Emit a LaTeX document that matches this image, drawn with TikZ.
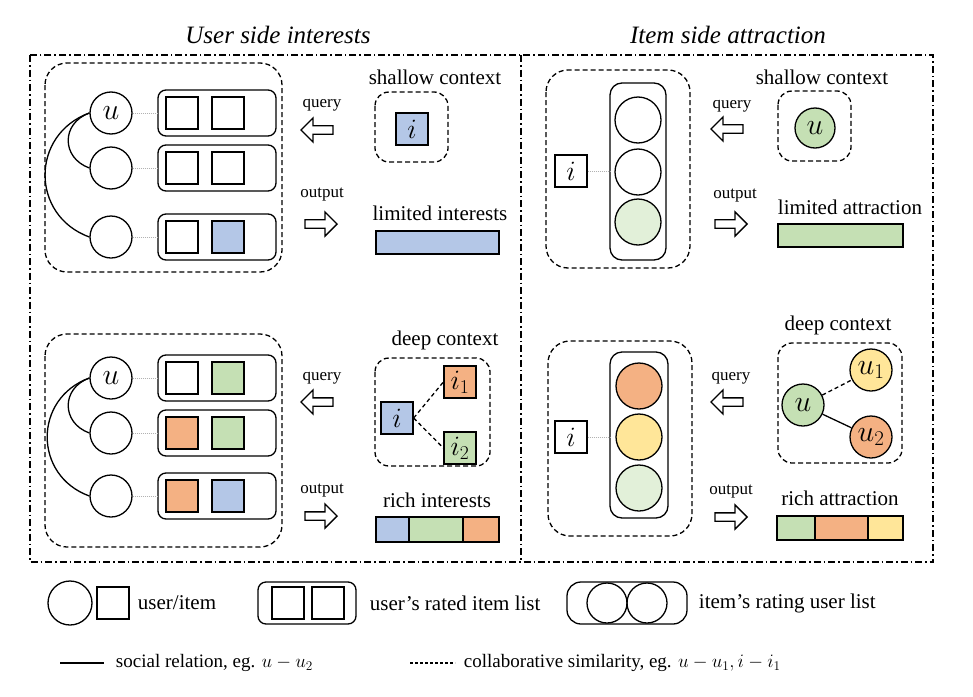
\documentclass[tikz,border=0pt]{standalone}
\usepackage{fix-cm}
\usepackage{fontspec}
\setmainfont{Liberation Serif}
\usetikzlibrary{shapes.arrows}

\definecolor{cblue}{HTML}{B4C7E7}
\definecolor{cgreen}{HTML}{C5E0B4}
\definecolor{corange}{HTML}{F4B183}
\definecolor{cyellow}{HTML}{FFE699}
\definecolor{clight}{HTML}{E2F0D9}

\begin{document}
\begin{tikzpicture}[
  x=1pt, y=-1pt, line width=1.3pt,
  usr/.style={circle, draw, minimum size=42pt, inner sep=0pt, font=\fontsize{30}{30}\selectfont},
  itm/.style={rectangle, draw, minimum size=32pt, inner sep=0pt, font=\fontsize{28}{28}\selectfont},
  lst/.style={draw, rounded corners=8pt},
  grp/.style={draw, dash pattern=on 5pt off 3pt, rounded corners=22pt},
  ctx/.style={draw, dash pattern=on 5pt off 3pt, rounded corners=14pt},
  link/.style={gray!60, densely dotted, line width=1pt},
  lbl/.style={font=\fontsize{21}{21}\selectfont},
  small/.style={font=\fontsize{17}{17}\selectfont},
  hollow/.style={single arrow, draw, minimum height=32pt, minimum width=24pt, single arrow head extend=5pt, inner sep=2pt},
  bar/.style={draw}
  ]
\useasboundingbox (0,0) rectangle (973,696);

% frame and titles
\draw[dash pattern=on 7pt off 3pt on 1.5pt off 3pt] (30,55) rectangle (933,562);
\draw[dash pattern=on 7pt off 3pt on 1.5pt off 3pt] (521,55) -- (521,562);
\node[font=\fontsize{25}{25}\selectfont\itshape] (tuser) at (278,35) {User side interests};
\node[font=\fontsize{25}{25}\selectfont\itshape] (titem) at (728,35) {Item side attraction};

% user side, shallow
\draw[grp] (45,63) rectangle (282,272);
\foreach \y/\n in {113/a,168/b,237/c} {
  \node[usr] (s\n) at (111,\y) {};
  \draw[lst] (158,\y-23) rectangle (276,\y+23);
  \coordinate (r\n) at (158,\y);
  \draw[link] (s\n) -- (r\n);
}
\node[font=\fontsize{30}{30}\selectfont] at (sa) {$u$};
\node[itm] (sa1) at (182,113) {};
\node[itm] (sa2) at (228,113) {};
\node[itm] (sb1) at (182,168) {};
\node[itm] (sb2) at (228,168) {};
\node[itm] (sc1) at (182,237) {};
\node[itm, fill=cblue] (sc2) at (228,237) {};
\draw (sa.west) to[out=200, in=160, looseness=1.4] (sb.west);
\draw (sa.west) to[out=200, in=160, looseness=1.3] (sc.west);

\node[small] (q1) at (322,105) {query};
\node[hollow, shape border rotate=180] (qa1) at (319,130) {};
\node[lbl] (sc) at (435,77) {shallow context};
\draw[ctx] (375,92) rectangle (448,162);
\node[itm, fill=cblue] (si) at (412,129) {$i$};
\node[small] (o1) at (322,195) {output};
\node[hollow] (oa1) at (319,224) {};
\node[lbl] (li) at (440,213) {limited interests};
\node[bar, fill=cblue, minimum width=123pt, minimum height=23pt] (bli) at (437.5,242.5) {};

% user side, deep
\draw[grp] (45,334) rectangle (282,547);
\foreach \y/\n in {378/a,433/b,496/c} {
  \node[usr] (d\n) at (111,\y) {};
  \draw[lst] (158,\y-23) rectangle (276,\y+23);
  \coordinate (t\n) at (158,\y);
  \draw[link] (d\n) -- (t\n);
}
\node[font=\fontsize{30}{30}\selectfont] at (da) {$u$};
\node[itm] (da1) at (182,378) {};
\node[itm, fill=cgreen] (da2) at (228,378) {};
\node[itm, fill=corange] (db1) at (182,433) {};
\node[itm, fill=cgreen] (db2) at (228,433) {};
\node[itm, fill=corange] (dc1) at (182,496) {};
\node[itm, fill=cblue] (dc2) at (228,496) {};
\draw (da.west) to[out=200, in=160, looseness=1.4] (db.west);
\draw (da.west) to[out=200, in=160, looseness=1.3] (dc.west);

\node[small] (q2) at (322,378) {query};
\node[hollow, shape border rotate=180] (qa2) at (319,402) {};
\node[lbl] (dcx) at (445,340) {deep context};
\draw[ctx] (375,358) rectangle (490,466);
\node[itm, fill=cblue] (di) at (397,418) {$i$};
\node[itm, fill=corange] (di1) at (460,382) {$i_1$};
\node[itm, fill=cgreen] (di2) at (460,448) {$i_2$};
\draw[dash pattern=on 4pt off 3pt] (di.east) -- (di1.west);
\draw[dash pattern=on 4pt off 3pt] (di.east) -- (di2.west);
\node[small] (o2) at (322,491) {output};
\node[hollow] (oa2) at (319,516) {};
\node[lbl] (ri) at (437,500) {rich interests};
\draw[bar, fill=cblue] (376,517) rectangle (409,542);
\draw[bar, fill=cgreen] (409,517) rectangle (463,542);
\draw[bar, fill=corange] (463,517) rectangle (499,542);

% item side, shallow
\draw[grp] (546,70) rectangle (690,268);
\draw[lst, rounded corners=12pt] (610,83) rectangle (666,260);
\node[usr, minimum size=46pt] (ia) at (638,120) {};
\node[usr, minimum size=46pt] (ib) at (638,172) {};
\node[usr, minimum size=46pt, fill=clight] (ic) at (638,222) {};
\node[itm] (ii) at (571,171) {$i$};
\coordinate (iv) at (610,171);
\draw[link] (ii) -- (iv);
\node[small] (q3) at (732,106) {query};
\node[hollow, shape border rotate=180] (qa3) at (729,129) {};
\node[lbl] (sc2) at (822,77) {shallow context};
\draw[ctx] (778,91) rectangle (851,161);
\node[usr, minimum size=40pt, fill=cgreen] (su) at (815,128) {$u$};
\node[small] (o3) at (735,196) {output};
\node[hollow] (oa3) at (729,224) {};
\node[lbl] (la) at (850,207) {limited attraction};
\node[bar, fill=cgreen, minimum width=125pt, minimum height=23pt] (bla) at (840.5,235.5) {};

% item side, deep
\draw[grp] (548,341) rectangle (692,536);
\draw[lst, rounded corners=12pt] (610,352) rectangle (668,518);
\node[usr, minimum size=46pt, fill=corange] (ja) at (639,386) {};
\node[usr, minimum size=46pt, fill=cyellow] (jb) at (639,437) {};
\node[usr, minimum size=46pt, fill=clight] (jc) at (639,488) {};
\node[itm] (ji) at (571,437) {$i$};
\coordinate (jv) at (610,437);
\draw[link] (ji) -- (jv);
\node[small] (q4) at (731,378) {query};
\node[hollow, shape border rotate=180] (qa4) at (729,402) {};
\node[lbl] (dcx2) at (838,325) {deep context};
\draw[ctx] (778,343) rectangle (902,463);
\node[usr, fill=cgreen] (du) at (803,405) {$u$};
\node[usr, fill=cyellow] (du1) at (871,370) {$u_1$};
\node[usr, fill=corange] (du2) at (871,437) {$u_2$};
\draw[dash pattern=on 4pt off 3pt] (du) -- (du1);
\draw (du) -- (du2);
\node[small] (o4) at (731,492) {output};
\node[hollow] (oa4) at (729,517) {};
\node[lbl] (ra) at (840,498) {rich attraction};
\draw[bar, fill=cgreen] (777,516) rectangle (815,540);
\draw[bar, fill=corange] (815,516) rectangle (868,540);
\draw[bar, fill=cyellow] (868,516) rectangle (903,540);

% legend
\node[usr, minimum size=44pt] (lu) at (70,603) {};
\node[itm] (lv) at (113,603) {};
\node[lbl, anchor=west] (lt1) at (134,603) {user/item};
\draw[lst] (258,582) rectangle (356,624);
\node[itm] (lr1) at (288,603) {};
\node[itm] (lr2) at (328,603) {};
\node[lbl, anchor=west] (lt2) at (366,603) {user's rated item list};
\draw[lst, rounded corners=14pt] (567,582) rectangle (687,624);
\node[usr, minimum size=40pt] (lc1) at (607,603) {};
\node[usr, minimum size=40pt] (lc2) at (647,603) {};
\node[lbl, anchor=west] (lt3) at (695,603) {item's rating user list};
\coordinate (s1) at (60,663);
\coordinate (s2) at (104,663);
\draw (s1) -- (s2);
\node[font=\fontsize{19}{19}\selectfont, anchor=west] (lt4) at (112,663) {social relation, eg. $u-u_2$};
\coordinate (c1) at (410,663);
\coordinate (c2) at (455,663);
\draw[dash pattern=on 3pt off 2pt] (c1) -- (c2);
\node[font=\fontsize{19}{19}\selectfont, anchor=west] (lt5) at (460,663) {collaborative similarity, eg. $u-u_1, i-i_1$};

\end{tikzpicture}
\end{document}
